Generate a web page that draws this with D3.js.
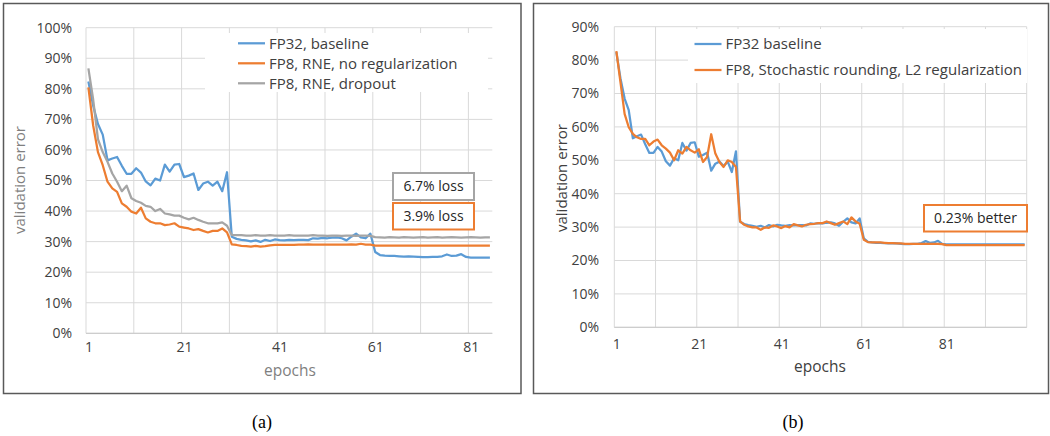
<!DOCTYPE html>
<meta charset="utf-8">
<style>
body { margin: 0; background: #fff; }
text { font-family: "Open Sans", sans-serif; }
.grid line { stroke: #d9d9d9; stroke-width: 1; }
.series { fill: none; stroke-width: 2.25px; stroke-linejoin: round; }
.axis text { fill: #404040; font-size: 14px; font-family: "Open Sans", sans-serif; }
.frame { fill: none; stroke: #595959; stroke-width: 1.5; }
text.caption { font-family: "Liberation Serif", serif; font-size: 18px; fill: #000; }
</style>
<svg></svg>
<script src="https://d3js.org/d3.v7.min.js"></script>
<script>

// validation error (%) per epoch
// FP32 baseline is the same run in both panels (100 epochs, left panel shows 85)
var baseline = [
  82.4, 74.5, 68.5, 65.0, 56.6, 57.2, 57.7, 54.8, 52.2, 52.2,
  54.0, 52.6, 49.7, 48.4, 50.6, 50.0, 55.2, 52.9, 55.2, 55.4,
  51.1, 51.6, 52.3, 46.9, 49.0, 49.6, 48.3, 49.6, 46.5, 52.7,
  31.6, 30.9, 30.6, 30.4, 30.1, 30.4, 29.9, 30.6, 30.2, 30.7,
  30.5, 30.4, 30.6, 30.5, 30.6, 30.6, 30.5, 31.1, 31.0, 31.2,
  31.1, 31.3, 31.4, 31.1, 30.4, 31.6, 32.6, 31.4, 31.1, 32.6,
  26.6, 25.6, 25.4, 25.3, 25.3, 25.2, 25.1, 25.2, 25.1, 25.0,
  24.9, 24.9, 25.0, 25.0, 25.2, 25.8, 25.3, 25.4, 25.9, 25.0,
  24.8, 24.8, 24.8, 24.8, 24.8, 24.8, 24.8, 24.8, 24.8, 24.8,
  24.8, 24.8, 24.8, 24.8, 24.8, 24.8, 24.8, 24.8, 24.8, 24.8
];
var rneNoReg = [
  80.5, 68.0, 59.3, 55.0, 49.6, 47.4, 46.3, 42.5, 41.4, 39.8,
  39.2, 41.1, 37.6, 36.5, 36.0, 36.0, 35.4, 35.6, 36.0, 34.9,
  34.6, 34.3, 33.8, 34.1, 33.5, 33.0, 33.5, 33.5, 34.3, 33.0,
  29.1, 28.9, 28.6, 28.5, 28.4, 28.6, 28.4, 28.5, 28.8, 28.9,
  28.9, 28.9, 28.9, 28.9, 29.0, 29.0, 29.1, 29.0, 29.0, 29.0,
  29.0, 29.0, 29.0, 29.0, 29.0, 29.1, 29.0, 29.3, 29.0, 29.0,
  28.7, 28.7, 28.7, 28.7, 28.7, 28.7, 28.7, 28.7, 28.7, 28.7,
  28.7, 28.7, 28.7, 28.7, 28.7, 28.7, 28.7, 28.7, 28.7, 28.7,
  28.7, 28.7, 28.7, 28.7, 28.7
];
var rneDropout = [
  86.7, 76.5, 63.5, 59.3, 56.1, 52.3, 49.6, 46.5, 48.3, 44.2,
  43.3, 42.7, 41.7, 41.4, 40.0, 40.7, 39.2, 38.9, 38.5, 38.5,
  37.8, 37.3, 37.8, 37.1, 36.5, 36.0, 36.0, 36.0, 36.3, 35.2,
  32.2, 32.1, 32.1, 32.0, 32.0, 32.1, 32.0, 32.0, 32.1, 32.0,
  32.0, 32.0, 32.1, 32.0, 32.0, 32.0, 32.0, 32.1, 32.0, 32.0,
  31.9, 32.0, 32.0, 31.9, 32.0, 32.0, 31.9, 32.0, 32.0, 31.9,
  31.5, 31.4, 31.3, 31.5, 31.4, 31.3, 31.5, 31.4, 31.3, 31.4,
  31.5, 31.3, 31.4, 31.5, 31.3, 31.4, 31.5, 31.4, 31.3, 31.4,
  31.5, 31.4, 31.3, 31.4, 31.4
];
var stochL2 = [
  82.7, 73.3, 63.9, 59.9, 57.9, 56.9, 56.4, 56.4, 54.5, 55.6,
  56.2, 54.5, 53.5, 52.3, 50.0, 53.0, 52.0, 54.0, 53.0, 52.3,
  53.3, 49.5, 51.0, 57.8, 52.0, 49.5, 48.0, 50.0, 49.5, 48.0,
  31.7, 30.7, 30.2, 29.9, 29.9, 29.2, 29.9, 29.8, 30.5, 30.2,
  29.7, 30.3, 29.9, 30.9, 30.5, 30.2, 30.7, 30.9, 31.0, 31.2,
  31.2, 31.7, 31.2, 30.7, 31.2, 31.7, 30.9, 32.9, 31.7, 31.0,
  26.2, 25.5, 25.4, 25.4, 25.4, 25.3, 25.2, 25.2, 25.1, 25.1,
  25.0, 25.0, 25.0, 25.0, 25.0, 25.0, 25.0, 25.0, 25.0, 24.9,
  24.6, 24.6, 24.6, 24.6, 24.6, 24.6, 24.6, 24.6, 24.6, 24.6,
  24.6, 24.6, 24.6, 24.6, 24.6, 24.6, 24.6, 24.6, 24.6, 24.6
];

var leftYTicks = [0, 10, 20, 30, 40, 50, 60, 70, 80, 90, 100];
var rightYTicks = [0, 10, 20, 30, 40, 50, 60, 70, 80, 90];
var xTicks = [1, 21, 41, 61, 81];
var leftNames = ["FP32, baseline", "FP8, RNE, no regularization", "FP8, RNE, dropout"];
var rightNames = ["FP32 baseline", "FP8, Stochastic rounding, L2 regularization"];
var leftNotes = ["6.7% loss", "3.9% loss"];
var rightNotes = ["0.23% better"];
var captions = ["(a)", "(b)"];

var blue = "#5b9bd5", orange = "#ed7d31", grey = "#a5a5a5";

var svg = d3.select("svg").attr("width", 1050).attr("height", 436);

// panel frames
svg.append("rect").attr("class", "frame").attr("x", 3.5).attr("y", 3.5).attr("width", 517.5).attr("height", 390);
svg.append("rect").attr("class", "frame").attr("x", 533.5).attr("y", 3.5).attr("width", 515).attr("height", 390);

function drawChart(o) {
  var g = svg.append("g");
  var n = o.series[0].values.length;
  var x = d3.scaleLinear().domain([0.5, n + 0.5]).range([o.left, o.right]);
  var y = d3.scaleLinear().domain([0, d3.max(o.yTicks)]).range([o.bottom, o.top]);

  var grid = g.append("g").attr("class", "grid");
  grid.selectAll(".h").data(o.yTicks).enter().append("line")
    .attr("x1", o.left).attr("x2", o.right)
    .attr("y1", function(d) { return y(d); }).attr("y2", function(d) { return y(d); });
  var vx = d3.range(0.5, n + 0.51, 10);
  grid.selectAll(".v").data(vx).enter().append("line")
    .attr("x1", function(d) { return x(d); }).attr("x2", function(d) { return x(d); })
    .attr("y1", o.top).attr("y2", o.bottom);

  // white legend background hides gridlines
  g.append("rect").attr("x", o.legBox[0]).attr("y", o.legBox[1])
    .attr("width", o.legBox[2]).attr("height", o.legBox[3]).attr("fill", "#fff");

  // bottom axis line
  g.append("line").attr("x1", o.left).attr("x2", o.right)
    .attr("y1", o.bottom).attr("y2", o.bottom)
    .attr("stroke", "#c8c8c8").attr("stroke-width", 1);

  var ya = g.append("g").attr("class", "axis")
    .attr("transform", "translate(" + o.left + ",0)")
    .call(d3.axisLeft(y).tickValues(o.yTicks).tickSize(0).tickPadding(o.yPad)
      .tickFormat(function(d) { return d + "%"; }));
  ya.select(".domain").remove();

  var xa = g.append("g").attr("class", "axis")
    .attr("transform", "translate(0," + o.bottom + ")")
    .call(d3.axisBottom(x).tickValues(xTicks).tickSize(0).tickPadding(o.xPad)
      .tickFormat(d3.format("d")));
  xa.select(".domain").remove();

  var line = d3.line()
    .x(function(d, i) { return x(i + 1); })
    .y(function(d) { return y(d); });

  o.series.forEach(function(s) {
    g.append("path").attr("class", "series")
      .attr("stroke", s.color)
      .attr("d", line(s.values));
  });

  // legend
  o.series.forEach(function(s, i) {
    var ly = o.legY + i * o.legStep;
    g.append("line").attr("x1", o.legX).attr("x2", o.legX + 27)
      .attr("y1", ly).attr("y2", ly)
      .attr("stroke", s.color).attr("stroke-width", 2.25);
    g.append("text").attr("x", o.legX + 31).attr("y", ly).attr("dy", "0.35em")
      .style("font-size", "15px").attr("fill", "#404040")
      .text(s.name);
  });

  // annotation boxes
  o.notes.forEach(function(nt) {
    g.append("rect").attr("x", nt.x).attr("y", nt.y).attr("width", nt.w).attr("height", nt.h)
      .attr("fill", "#fff").attr("stroke", nt.color).attr("stroke-width", 2);
    g.append("text").attr("x", nt.x + nt.w / 2).attr("y", nt.y + nt.h / 2).attr("dy", "0.35em")
      .attr("text-anchor", "middle").style("font-size", "14px").attr("fill", "#262626")
      .text(nt.text);
  });

  // axis titles
  g.append("text").attr("transform", "translate(" + o.yTitle[0] + "," + o.yTitle[1] + ") rotate(-90)")
    .attr("text-anchor", "middle").style("font-size", "15px").attr("fill", o.titleColor)
    .text("validation error");
  g.append("text").attr("x", o.xTitle[0]).attr("y", o.xTitle[1])
    .attr("text-anchor", "middle").style("font-size", "15.5px").attr("fill", o.titleColor)
    .text("epochs");
}

drawChart({
  left: 86, right: 492.3, top: 27.7, bottom: 333.3,
  yTicks: leftYTicks, yPad: 14, xPad: 9,
  series: [
    {name: leftNames[0], color: blue, values: baseline.slice(0, 85)},
    {name: leftNames[1], color: orange, values: rneNoReg},
    {name: leftNames[2], color: grey, values: rneDropout}
  ],
  legBox: [205, 33, 283, 59], legX: 238, legY: 43.3, legStep: 20,
  notes: [
    {text: leftNotes[0], color: grey, x: 393, y: 173, w: 81, h: 27},
    {text: leftNotes[1], color: orange, x: 393, y: 203, w: 81, h: 26.5}
  ],
  yTitle: [25, 180], xTitle: [290, 375.5], titleColor: "#7f7f7f"
});

drawChart({
  left: 614.3, right: 1026.7, top: 26.7, bottom: 327.3,
  yTicks: rightYTicks, yPad: 15.3, xPad: 11.3,
  series: [
    {name: rightNames[0], color: blue, values: baseline},
    {name: rightNames[1], color: orange, values: stochL2}
  ],
  legBox: [688, 29, 339, 54], legX: 694.5, legY: 44, legStep: 26,
  notes: [
    {text: rightNotes[0], color: orange, x: 924, y: 205, w: 103, h: 26.5}
  ],
  yTitle: [566.5, 178], xTitle: [820, 371.5], titleColor: "#404040"
});

// captions
svg.selectAll(".caption").data(captions).enter().append("text")
  .attr("class", "caption")
  .attr("x", function(d, i) { return i == 0 ? 262 : 793; })
  .attr("y", 428)
  .attr("text-anchor", "middle")
  .text(function(d) { return d; });

</script>
